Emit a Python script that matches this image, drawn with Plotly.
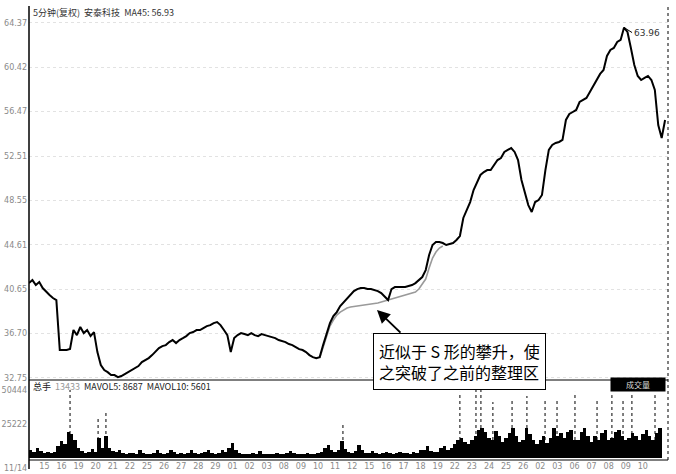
import plotly.graph_objects as go

PTS_PER_DAY = 5

day_labels = ["11/14", "15", "16", "19", "20", "21", "22", "25", "26", "27", "28", "29",
              "01", "02", "03", "08", "09", "10", "11", "12", "15", "16", "17", "18", "19",
              "22", "23", "24", "25", "26", "02", "03", "06", "07", "08", "09", "10"]

price_ticks = [64.37, 60.42, 56.47, 52.51, 48.55, 44.61, 40.65, 36.70, 32.75]
vol_ticks = [50444, 25222]

price = [
    41.20, 41.47, 41.03, 41.29, 40.76,
    40.40, 40.14, 39.87, 39.69, 35.24,
    35.24, 35.24, 35.33, 37.02, 36.57,
    37.29, 36.75, 37.02, 36.48, 36.84,
    35.06, 33.90, 33.45, 33.27, 33.01,
    33.01, 32.83, 32.92, 33.10, 33.27,
    33.45, 33.63, 33.81, 34.16, 34.34,
    34.52, 34.79, 35.06, 35.41, 35.59,
    35.68, 35.95, 36.13, 35.86, 36.13,
    36.30, 36.48, 36.75, 36.84, 37.02,
    37.02, 37.20, 37.37, 37.46, 37.64,
    37.73, 37.46, 37.02, 36.57, 35.06,
    36.30, 36.57, 36.75, 36.66, 36.57,
    36.75, 36.57, 36.48, 36.66, 36.57,
    36.48, 36.39, 36.30, 36.13, 36.04,
    35.95, 35.77, 35.68, 35.50, 35.32,
    35.24, 35.06, 34.79, 34.61, 34.52,
    34.61, 35.68, 36.75, 37.64, 38.26,
    38.62, 39.16, 39.51, 39.87, 40.22,
    40.49, 40.67, 40.76, 40.76, 40.67,
    40.67, 40.58, 40.49, 40.31, 39.96,
    39.69, 40.67, 40.85, 40.85, 40.85,
    40.85, 40.94, 41.03, 41.20, 41.47,
    41.74, 42.36, 43.70, 44.59, 44.86,
    44.86, 44.77, 44.59, 44.68, 44.77,
    45.04, 45.39, 47.00, 47.71, 48.42,
    49.49, 50.20, 50.83, 51.09, 51.27,
    51.27, 51.72, 52.16, 52.34, 52.88,
    53.06, 53.23, 52.88, 52.16, 50.38,
    49.31, 48.15, 47.53, 48.42, 48.60,
    49.05, 51.27, 53.06, 53.50, 53.68,
    53.77, 53.95, 55.73, 56.26, 56.44,
    56.62, 57.33, 57.51, 57.69, 58.22,
    58.76, 59.29, 59.83, 60.18, 61.43,
    61.97, 62.14, 62.68, 62.86, 63.96,
    63.57, 62.14, 60.63, 59.65, 59.29,
    59.47, 59.65, 59.29, 58.40, 55.28,
    54.12, 55.73,
]

ma45_start = 17 * PTS_PER_DAY
ma45 = [
    34.52, 35.41, 36.39, 37.37, 37.91,
    38.35, 38.62, 38.80, 38.98, 39.07,
    39.11, 39.16, 39.20, 39.24, 39.24,
    39.33, 39.38, 39.42, 39.51, 39.60,
    39.69, 39.78, 39.87, 39.96, 40.05,
    40.14, 40.22, 40.31, 40.40, 40.67,
    41.12, 41.56, 42.54, 43.43, 43.97,
    44.32, 44.50,
]

volume = [
    5940, 4450, 7420, 5200, 3700,
    4450, 3700, 4450, 8900, 12600,
    10400, 19300, 17800, 13360, 7420,
    5200, 3700, 4450, 6680, 4450,
    14840, 7420, 16320, 7420, 5200,
    4450, 5940, 3700, 2970, 3700,
    3700, 2970, 5940, 3700, 2970,
    2970, 3700, 5940, 3700, 2970,
    3700, 5940, 4450, 2970, 3700,
    2970, 3700, 5940, 3700, 2970,
    3700, 4450, 5940, 3700, 2970,
    3700, 5940, 4450, 7420, 11130,
    5940, 3700, 2970, 2970, 2970,
    3700, 2970, 5200, 2970, 2970,
    2970, 2970, 3700, 2970, 2970,
    3700, 5200, 3700, 2970, 2970,
    2970, 3700, 2970, 2970, 3700,
    4450, 7420, 9650, 5940, 4450,
    5940, 12600, 6680, 4450, 3700,
    5200, 9650, 5940, 3700, 3700,
    5200, 3700, 2970, 3700, 4450,
    3700, 2970, 3700, 4450, 3700,
    3700, 2970, 4450, 3700, 5940,
    5940, 8900, 5200, 4450, 4450,
    7420, 8900, 5940, 7420, 10400,
    13360, 14840, 11870, 10400, 13360,
    16320, 20780, 22260, 19300, 14840,
    13360, 20030, 16320, 11870, 14840,
    18550, 22260, 16320, 11870, 13360,
    22260, 17800, 13360, 10400, 13360,
    16320, 11130, 14840, 22260, 16320,
    18550, 14840, 19300, 20780, 13360,
    13360, 19300, 22260, 16320, 11870,
    16320, 13360, 18550, 20780, 13360,
    14840, 19300, 20780, 16320, 13360,
    14840, 18550, 16320, 13360, 17800,
    20780, 16320, 13360, 18550, 22260,
]

spike_pos = [2.40, 4.04, 4.50, 18.36, 25.20, 26.14, 26.43, 27.13, 28.25, 29.12, 30.18,
             30.88, 31.93, 33.22, 34.09, 34.74, 35.26, 36.61]
spike_vol = [50500, 30400, 35600, 24500, 49000, 51900, 54200, 41500, 44500, 46000, 43000,
             44500, 49000, 43000, 46700, 44500, 49000, 46700]

# derived x positions
px = [i / PTS_PER_DAY for i in range(len(price))]
ma_x = [(ma45_start + i) / PTS_PER_DAY for i in range(len(ma45))]
vx = [(i + 0.5) / PTS_PER_DAY for i in range(len(volume))]
sx, sy = [], []
for p, v in zip(spike_pos, spike_vol):
    sx += [p, p, None]
    sy += [0, v, None]

fig = go.Figure()
fig.add_trace(go.Scatter(x=ma_x, y=ma45, mode="lines", line=dict(color="#9a9a9a", width=1.6),
                         xaxis="x", yaxis="y", hoverinfo="skip"))
fig.add_trace(go.Scatter(x=px, y=price, mode="lines", line=dict(color="black", width=2),
                         xaxis="x", yaxis="y"))
fig.add_trace(go.Bar(x=vx, y=volume, width=1 / PTS_PER_DAY, marker=dict(color="black", line=dict(width=0)),
                     xaxis="x", yaxis="y2"))
fig.add_trace(go.Scatter(x=sx, y=sy, mode="lines", line=dict(color="black", width=1, dash="dot"),
                         xaxis="x", yaxis="y2", hoverinfo="skip"))

axis_font = dict(family="DejaVu Sans", size=8, color="#8a8a8a")

PRICE_DOM = [0.1762, 1]
VOL_DOM = [0, 0.174]

fig.update_layout(
    width=676, height=474,
    margin=dict(l=29, r=8, t=6, b=14),
    paper_bgcolor="white", plot_bgcolor="white",
    showlegend=False,
    bargap=0,
    xaxis=dict(domain=[0, 1], range=[0, 37.37], anchor="y2", automargin=False,
               tickmode="array", tickvals=[i - 0.1 for i in range(1, len(day_labels))],
               ticktext=day_labels[1:],
               tickfont=axis_font, showgrid=False, zeroline=False, showline=False, ticks="",
               ticklabelstandoff=0),
    yaxis=dict(domain=PRICE_DOM, range=[32.57, 65.88], tickmode="array", automargin=False,
               tickvals=price_ticks, ticktext=[f"{v:.2f}" for v in price_ticks],
               tickfont=axis_font, showgrid=True, gridcolor="#e2e2e2", griddash="dot", gridwidth=1,
               zeroline=False, showline=False, ticks="", ticklabelstandoff=1),
    yaxis2=dict(domain=VOL_DOM, range=[-1484, 57134], tickmode="array", automargin=False,
                tickvals=vol_ticks, ticktext=[str(v) for v in vol_ticks],
                tickfont=axis_font, showgrid=False, zeroline=False, showline=False, ticks="",
                ticklabelstandoff=1),
)

# first date label (sits left of the plot edge)
fig.add_annotation(xref="paper", yref="paper", x=0.0, y=-0.004, xanchor="right", yanchor="top",
                   text=day_labels[0], showarrow=False, font=axis_font)

# frame lines
fig.add_shape(type="line", xref="paper", yref="paper", x0=0, x1=0, y0=-0.02, y1=1.0,
              line=dict(color="black", width=1.5))
fig.add_shape(type="line", xref="paper", yref="paper", x0=1, x1=1, y0=0, y1=1.0,
              line=dict(color="black", width=1, dash="dot"))
fig.add_shape(type="line", xref="paper", yref="paper", x0=0, x1=1, y0=PRICE_DOM[0], y1=PRICE_DOM[0],
              line=dict(color="black", width=1))
fig.add_shape(type="line", xref="paper", yref="paper", x0=0, x1=1, y0=0, y1=0,
              line=dict(color="black", width=1))

# header texts
fig.add_annotation(xref="paper", yref="paper", x=0.003, y=0.985, xanchor="left", yanchor="middle",
                   text="5分钟(复权)  安泰科技  MA45: 56.93", showarrow=False,
                   font=dict(family="Noto Sans CJK SC", size=9, color="#333333"))
fig.add_annotation(xref="paper", yref="paper", x=0.003, y=0.162, xanchor="left", yanchor="middle",
                   text="总手  <span style='color:#999999'>13433</span>  MAVOL5: 8687  MAVOL10: 5601",
                   showarrow=False, font=dict(family="Noto Sans CJK SC", size=9, color="#222222"))
fig.add_annotation(xref="paper", yref="paper", x=0.91, y=0.166, xanchor="left", yanchor="middle",
                   text="成交量", showarrow=False, bgcolor="black", width=52, height=11,
                   font=dict(family="Noto Sans CJK SC", size=8, color="#dddddd"))

# peak label
fig.add_annotation(x=34.8, y=63.96, xref="x", yref="y", text="63.96", showarrow=True,
                   arrowhead=0, arrowwidth=1, arrowcolor="black", ax=8, ay=5, xanchor="left",
                   font=dict(family="DejaVu Sans", size=9, color="#333333"))

# comment box and arrow
fig.add_annotation(x=20.35, y=38.80, xref="x", yref="y", text="", showarrow=True,
                   arrowhead=2, arrowsize=1.3, arrowwidth=2, arrowcolor="black",
                   ax=25, ay=24, standoff=0)
fig.add_annotation(xref="paper", yref="paper", x=0.674, y=0.216, xanchor="center", yanchor="middle",
                   text="近似于 S 形的攀升，使<br>之突破了之前的整理区", showarrow=False,
                   align="left", bgcolor="white", bordercolor="black", borderwidth=1, borderpad=5,
                   font=dict(family="Noto Sans CJK SC", size=16, color="black"))

fig.write_html("out.html", config={"displayModeBar": False},
               post_script="document.body.style.margin='0';document.body.style.overflow='hidden';")
